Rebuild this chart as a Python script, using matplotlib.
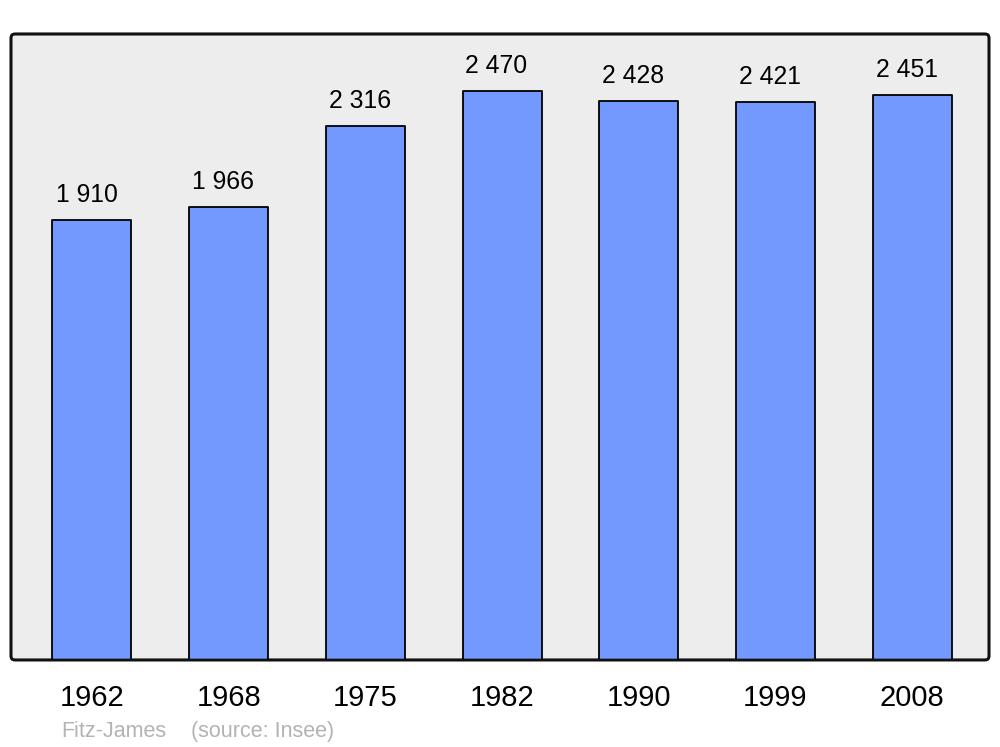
import matplotlib
matplotlib.use("Agg")
import matplotlib.pyplot as plt
from matplotlib.patches import FancyBboxPatch

plt.rcParams['font.family'] = ['Liberation Sans', 'DejaVu Sans']

years = ["1962", "1968", "1975", "1982", "1990", "1999", "2008"]
population = [1910, 1966, 2316, 2470, 2428, 2421, 2451]
value_labels = ["1 910", "1 966", "2 316", "2 470", "2 428", "2 421", "2 451"]
place = "Fitz-James"
source = "(source: Insee)"

fig = plt.figure(figsize=(10, 7.47), dpi=100)
ax = fig.add_axes([0.011, 0.1165, 0.978, 0.838])
ax.set_facecolor('none')

x = list(range(len(years)))
bars = ax.bar(x, population, width=0.578, color='#7399ff', edgecolor='black',
              linewidth=1.3, zorder=3)
for b in bars:
    b.set_joinstyle('round')

ax.set_xlim(-0.5925, 6.562)
ax.set_ylim(0, max(population) * 1.1)

for xi, v, lab in zip(x, population, value_labels):
    ax.annotate(lab, (xi, v), xytext=(-4, 13), textcoords='offset points',
                ha='center', va='baseline', fontsize=17.8, color='black')

ax.set_xticks(x)
ax.set_xticklabels(years, fontsize=21)
ax.tick_params(axis='x', length=0, pad=17)
ax.set_yticks([])
for s in ax.spines.values():
    s.set_visible(False)

frame = FancyBboxPatch((0, 0), 1, 1, boxstyle="round,pad=0,rounding_size=0.004",
                       transform=ax.transAxes, facecolor='#ededed',
                       edgecolor='#111111', linewidth=1.9, zorder=0,
                       clip_on=False, mutation_aspect=978/626)
ax.add_patch(frame)
frame2 = FancyBboxPatch((0, 0), 1, 1, boxstyle="round,pad=0,rounding_size=0.004",
                        transform=ax.transAxes, facecolor='none',
                        edgecolor='#111111', linewidth=1.9, zorder=5,
                        clip_on=False, mutation_aspect=978/626)
ax.add_patch(frame2)

fig.text(0.061, 1 - 737/747, place, fontsize=15.5, color='#b3b3b3', va='baseline')
fig.text(0.191, 1 - 737/747, source, fontsize=15.5, color='#b3b3b3', va='baseline')

fig.savefig("out.png", dpi=100)
